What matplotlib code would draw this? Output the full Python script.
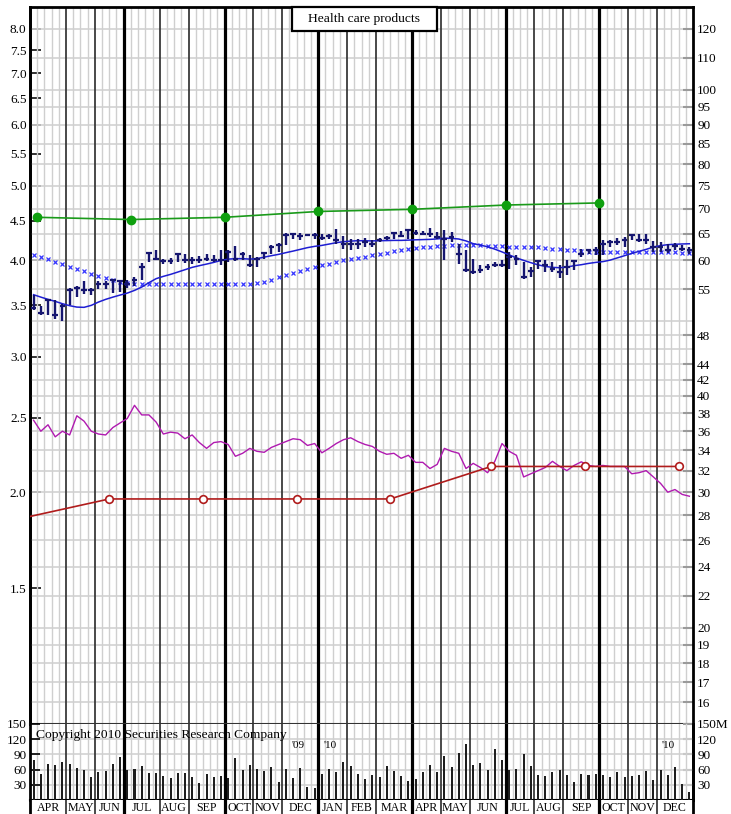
import matplotlib
matplotlib.use("Agg")
import matplotlib.pyplot as plt
import numpy as np
from matplotlib.patches import Rectangle
from matplotlib.ticker import FixedLocator, FixedFormatter, NullLocator

plt.rcParams['font.family'] = ['Liberation Serif', 'DejaVu Serif']

# ---------------- data ----------------
months = ['APR', 'MAY', 'JUN', 'JUL', 'AUG', 'SEP', 'OCT', 'NOV', 'DEC', 'JAN', 'FEB',
          'MAR', 'APR', 'MAY', 'JUN', 'JUL', 'AUG', 'SEP', 'OCT', 'NOV', 'DEC']
weeks_in_month = [5, 4, 4, 5, 4, 5, 4, 4, 5, 4, 4, 5, 4, 4, 5, 4, 4, 5, 4, 4, 5]
quarter_months = ['JAN', 'APR', 'JUL', 'OCT']

high = [54.15, 52.29, 53.34, 53.24, 52.71, 55.30, 55.51, 56.41, 55.30, 56.35,
        56.35, 56.63, 56.52, 56.52, 57.08, 59.58, 61.51, 61.82, 60.30, 60.48,
        61.33, 61.21, 60.60, 60.72, 61.21, 60.90, 61.82, 61.82, 62.63, 61.51,
        60.90, 60.60, 61.51, 62.75, 63.19, 65.17, 65.11, 65.17, 64.98, 65.17,
        64.98, 64.98, 65.96, 64.46, 64.02, 64.02, 64.21, 63.70, 64.21, 64.46,
        65.30, 65.50, 65.76, 65.63, 65.50, 66.10, 65.30, 65.63, 65.30, 63.07,
        61.82, 60.30, 59.11, 59.40, 59.70, 60.00, 61.51, 60.90, 59.70, 58.82,
        60.00, 60.00, 59.70, 59.11, 60.00, 60.00, 62.13, 62.13, 62.44, 63.82,
        63.70, 64.21, 64.34, 64.85, 64.85, 64.98, 63.57, 63.38, 63.07, 63.19,
        62.75, 62.44]
low = [51.67, 51.01, 50.90, 50.40, 50.05, 52.45, 53.77, 54.31, 54.04, 55.13,
       55.13, 54.42, 54.58, 55.30, 55.51, 56.52, 59.70, 60.00, 59.40, 59.40,
       59.70, 59.58, 59.40, 59.52, 59.82, 59.70, 59.11, 59.70, 59.82, 60.00,
       58.82, 58.82, 60.30, 61.21, 61.51, 62.75, 64.02, 63.82, 64.46, 64.02,
       63.70, 64.02, 63.07, 62.13, 61.94, 62.13, 62.44, 62.44, 63.38, 63.82,
       64.02, 64.34, 64.02, 64.66, 64.78, 64.34, 64.02, 60.00, 63.38, 59.40,
       57.94, 57.66, 57.77, 58.23, 58.82, 58.82, 58.52, 59.11, 56.80, 57.08,
       58.52, 57.94, 57.94, 56.97, 57.37, 58.23, 60.60, 61.21, 60.90, 60.90,
       62.44, 62.75, 62.44, 63.70, 63.38, 63.07, 61.51, 61.51, 61.33, 61.94,
       61.70, 61.21]
close = [52.08, 51.26, 53.24, 50.90, 52.29, 54.96, 55.30, 54.85, 54.96, 55.85,
         55.96, 56.52, 56.41, 55.96, 56.52, 58.82, 61.39, 60.30, 59.82, 59.88,
         61.09, 60.12, 60.12, 60.12, 60.30, 60.12, 60.00, 61.51, 60.30, 61.09,
         59.11, 60.30, 61.33, 62.44, 62.88, 64.66, 64.85, 64.53, 64.78, 64.72,
         64.21, 64.46, 63.70, 63.07, 63.07, 62.94, 63.38, 63.07, 63.82, 64.14,
         65.17, 64.46, 65.63, 65.17, 64.98, 64.98, 64.34, 64.02, 64.34, 61.21,
         58.23, 57.94, 58.35, 58.82, 59.11, 59.11, 60.60, 60.30, 57.08, 58.06,
         59.88, 59.11, 58.52, 57.94, 58.82, 59.82, 61.21, 61.82, 61.82, 63.07,
         63.38, 63.38, 63.70, 64.72, 63.70, 63.70, 62.44, 62.44, 61.82, 62.56,
         62.13, 61.82]

ma_short = [54.15, 53.76, 53.40, 53.08, 52.71, 52.40, 52.18, 52.14, 52.45, 52.97,
            53.40, 53.76, 54.09, 54.41, 54.85, 55.40, 56.13, 56.81, 57.20, 57.54,
            57.94, 58.35, 58.76, 59.06, 59.34, 59.64, 60.00, 60.23, 60.31, 60.31,
            60.23, 60.31, 60.59, 60.85, 61.09, 61.40, 61.69, 62.01, 62.33, 62.57,
            62.75, 63.00, 63.26, 63.45, 63.56, 63.64, 63.62, 63.60, 63.64, 63.66,
            63.70, 63.70, 63.75, 63.81, 63.85, 63.89, 63.98, 64.12, 64.08, 63.96,
            63.60, 63.08, 62.81, 62.49, 62.05, 61.54, 60.99, 60.45, 60.00, 59.59,
            59.20, 58.93, 58.76, 58.70, 58.81, 59.06, 59.23, 59.46, 59.64, 59.78,
            60.05, 60.45, 60.85, 61.27, 61.64, 62.01, 62.44, 62.71, 62.89, 62.96,
            63.02, 63.06]

ma_long = [60.90, 60.59, 60.18, 59.77, 59.34, 58.88, 58.46, 58.06, 57.66, 57.25,
           56.86, 56.52, 56.23, 56.06, 55.96, 55.89, 55.85, 55.85, 55.85, 55.85,
           55.85, 55.85, 55.85, 55.85, 55.85, 55.85, 55.85, 55.85, 55.85, 55.85,
           55.85, 56.02, 56.27, 56.60, 57.03, 57.37, 57.76, 58.11, 58.46, 58.81,
           59.11, 59.41, 59.70, 60.00, 60.27, 60.49, 60.67, 60.95, 61.18, 61.40,
           61.64, 61.82, 62.01, 62.19, 62.38, 62.51, 62.62, 62.70, 62.75, 62.81,
           62.81, 62.81, 62.75, 62.70, 62.62, 62.57, 62.47, 62.44, 62.44, 62.44,
           62.44, 62.30, 62.14, 62.05, 61.95, 61.82, 61.69, 61.60, 61.51, 61.51,
           61.51, 61.51, 61.51, 61.51, 61.51, 61.51, 61.51, 61.51, 61.45, 61.45,
           61.40, 61.40]

rel_strength = [37.2, 36.0, 36.7, 35.4, 36.0, 35.6, 37.7, 37.1, 36.0, 35.7,
                35.6, 36.4, 36.9, 37.4, 38.9, 37.8, 37.8, 37.0, 35.7, 35.9,
                35.8, 35.2, 35.6, 34.8, 34.2, 34.8, 34.9, 34.6, 33.4, 33.7,
                34.2, 33.9, 33.8, 34.3, 34.6, 34.9, 35.2, 35.1, 34.5, 34.7,
                33.75, 34.2, 34.7, 35.1, 35.3, 34.9, 34.6, 34.4, 33.9, 33.6,
                33.7, 33.2, 33.5, 32.8, 32.8, 32.2, 32.6, 34.2, 33.9, 33.7,
                32.2, 32.7, 32.3, 31.8, 32.9, 34.7, 33.9, 33.5, 31.4, 31.7,
                32.0, 32.3, 32.9, 32.4, 32.0, 32.5, 32.85, 32.5, 32.4, 32.5,
                32.4, 32.4, 32.4, 31.7, 31.8, 32.0, 31.4, 30.8, 30.0, 30.24,
                29.8, 29.64]

volume = [79, 51, 72, 69, 75, 71, 62.5, 58.6, 46, 56,
          58, 71, 84, 59, 62, 68, 53, 53, 47, 43,
          53, 53, 46, 34, 51, 46, 47, 43, 82, 59,
          70, 60.5, 58, 64.5, 36, 60.5, 44, 63, 25, 23,
          51, 60.5, 56, 75, 67, 51, 41, 49, 45, 68,
          58, 47, 37.5, 41, 56, 70, 56, 87.5, 64.5, 93,
          110.5, 70, 74, 58.6, 100.7, 79, 60, 61, 91, 67,
          50, 47, 55, 58.6, 49, 35.5, 51, 50, 51, 49,
          46, 55, 46, 47, 49, 56.6, 39.5, 59, 50, 64.5,
          31.6, 16]

# earnings line (left scale) and dividend line (left scale)
eps_weeks = [1, 14, 27, 40, 53, 66, 79]
eps_values = [4.55, 4.52, 4.55, 4.63, 4.66, 4.72, 4.75]
div_weeks = [0, 11, 24, 37, 50, 64, 77, 90]
div_values = [1.86, 1.96, 1.96, 1.96, 1.96, 2.16, 2.16, 2.16]

EPS_RATIO = 15.0   # left scale = right scale / 15

price_ticks = [16, 17, 18, 19, 20, 22, 24, 26, 28, 30, 32, 34, 36, 38, 40, 42, 44,
               48, 55, 60, 65, 70, 75, 80, 85, 90, 95, 100, 110, 120]
price_grid = [16, 17, 18, 19, 20, 22, 24, 26, 28, 30, 32, 34, 36, 38, 40, 42, 44,
              46, 48, 50, 55, 60, 65, 70, 75, 80, 85, 90, 95, 100, 110, 120]
eps_ticks = [1.5, 2.0, 2.5, 3.0, 3.5, 4.0, 4.5, 5.0, 5.5, 6.0, 6.5, 7.0, 7.5, 8.0]
vol_ticks = [30, 60, 90, 120, 150]
vol_left_labels = ['30', '60', '90', '120', '150']
vol_right_labels = ['30', '60', '90', '120', '150M']
year_marks = [("'09", 37.2), ("'10", 41.6), ("'10", 88.6)]

title = 'Health care products'
copyright_text = 'Copyright 2010 Securities Research Company'

# ---------------- figure ----------------
W, H = 731, 814
fig = plt.figure(figsize=(W / 100, H / 100), dpi=100)


def rect(x0, y0, x1, y1):
    return [x0 / W, 1 - y1 / H, (x1 - x0) / W, (y1 - y0) / H]


ax = fig.add_axes(rect(30, 7, 693, 724))
axv = fig.add_axes(rect(30, 724, 693, 800))
axm = fig.add_axes(rect(30, 800, 693, 814))

n_weeks = sum(weeks_in_month)
n = len(close)
wk = np.arange(n) + 0.5
bounds = np.concatenate([[0], np.cumsum(weeks_in_month)])

for a in (ax, axv, axm):
    a.set_xlim(0, n_weeks)
    a.set_xticks([])
    a.set_facecolor('white')

# vertical lines
month_starts = set(bounds.tolist())
for a, grid in ((ax, True), (axv, True), (axm, False)):
    if grid:
        for w in range(1, n_weeks):
            if w not in month_starts:
                a.axvline(w, color='#cfcfcf', lw=1.0, zorder=0.5)
    for i, m in enumerate(months):
        b = bounds[i]
        if b == 0:
            continue
        if m in quarter_months:
            a.axvline(b, color='black', lw=2.3, zorder=1.2)
        else:
            a.axvline(b, color='#3a3a3a', lw=1.3, zorder=1.1)

# ---------------- price panel ----------------
ax.set_yscale('log')
ax.set_ylim(15, 128)
for g in price_grid:
    ax.axhline(g, color='#d2d2d2', lw=1.2, zorder=0.4)

ax.yaxis.tick_right()
ax.yaxis.set_major_locator(FixedLocator(price_ticks))
ax.yaxis.set_major_formatter(FixedFormatter([str(t) for t in price_ticks]))
ax.yaxis.set_minor_locator(NullLocator())
ax.tick_params(axis='y', which='major', direction='in', length=7, width=1.5,
               color='#9a9a9a', pad=3, labelsize=9.5)

sec = ax.secondary_yaxis('left', functions=(lambda p: np.asarray(p) / EPS_RATIO,
                                             lambda e: np.asarray(e) * EPS_RATIO))
sec.yaxis.set_major_locator(FixedLocator(eps_ticks))
sec.yaxis.set_major_formatter(FixedFormatter([f'{e:.1f}' for e in eps_ticks]))
sec.yaxis.set_minor_locator(NullLocator())
sec.tick_params(axis='y', which='major', direction='in', length=8, width=1.3,
                color='#222222', pad=2.5, labelsize=9.5)
sec.spines['left'].set_linewidth(2)

for s in ('left', 'right', 'top'):
    ax.spines[s].set_linewidth(2)
    ax.spines[s].set_color('black')
ax.spines['bottom'].set_linewidth(1.5)
ax.spines['bottom'].set_color('#333333')

# relative strength (magenta)
ax.plot(wk, rel_strength, color='#b01ab0', lw=1.0, zorder=3)
# dividend line (dark red, open circles)
div_p = np.array(div_values) * EPS_RATIO
ax.plot(div_weeks, div_p, color='#b01c1c', lw=1.2, zorder=3)
ax.plot(div_weeks[1:], div_p[1:], ls='none', marker='o', ms=5.5, mfc='white',
        mec='#b01c1c', mew=1.2, zorder=4)
# earnings line (green, filled circles)
eps_p = np.array(eps_values) * EPS_RATIO
ax.plot(eps_weeks, eps_p, color='#1a9a1a', lw=1.2, zorder=3, marker='o', ms=6,
        mfc='#0fa00f', mec='#0fa00f')
# moving averages
ax.plot(wk, ma_long, ls='none', marker='x', ms=2.6, mew=0.9, color='#3535ff', zorder=3)
ax.plot(wk, ma_short, color='#1e1ed2', lw=1.1, zorder=3)
# weekly bars
ax.vlines(wk, low, high, color='#161670', lw=1.7, zorder=4)
ax.hlines(close, wk - 0.4, wk + 0.4, color='#161670', lw=1.6, zorder=4)

# title box
fig.add_artist(Rectangle((292 / W, 1 - 30.5 / H), 145 / W, 23.5 / H, transform=fig.transFigure,
                         facecolor='white', edgecolor='black', lw=1.6, zorder=10))
fig.text(364.5 / W, 1 - 19 / H, title, ha='center', va='center', fontsize=9.7, zorder=11)

# ---------------- volume panel ----------------
axv.set_ylim(0, 150)
for g in vol_ticks[:-1]:
    axv.axhline(g, color='#d2d2d2', lw=1.2, zorder=0.4)
axv.bar(wk, volume, width=0.28, color='#1e1e1e', zorder=3)
axv.yaxis.set_major_locator(FixedLocator(vol_ticks))
axv.yaxis.set_major_formatter(FixedFormatter(vol_left_labels))
axv.tick_params(axis='y', direction='in', length=7, width=1.2, color='black',
                pad=2.5, labelsize=9.5)
secv = axv.secondary_yaxis('right')
secv.yaxis.set_major_locator(FixedLocator(vol_ticks))
secv.yaxis.set_major_formatter(FixedFormatter(vol_right_labels))
secv.tick_params(axis='y', direction='in', length=7, width=1.5, color='#9a9a9a',
                 pad=3, labelsize=9.5)
secv.spines['right'].set_linewidth(2)
for s in ('left', 'right'):
    axv.spines[s].set_linewidth(2)
axv.spines['top'].set_visible(False)
axv.spines['bottom'].set_linewidth(1.5)

axv.text(0.009, 0.855, copyright_text, transform=axv.transAxes, ha='left', va='center',
         fontsize=9.7, zorder=6)
for lab, xw in year_marks:
    axv.text(xw, 108, lab, ha='center', va='center', fontsize=8, zorder=6)

# ---------------- month strip ----------------
axm.set_ylim(0, 1)
axm.set_yticks([])
for s in ('top', 'bottom'):
    axm.spines[s].set_visible(False)
for s in ('left', 'right'):
    axm.spines[s].set_linewidth(2)
for i, m in enumerate(months):
    c = (bounds[i] + bounds[i + 1]) / 2
    axm.text(c, 0.02, m, ha='center', va='bottom', fontsize=8.6, clip_on=False)

fig.savefig('out.png', dpi=100)
